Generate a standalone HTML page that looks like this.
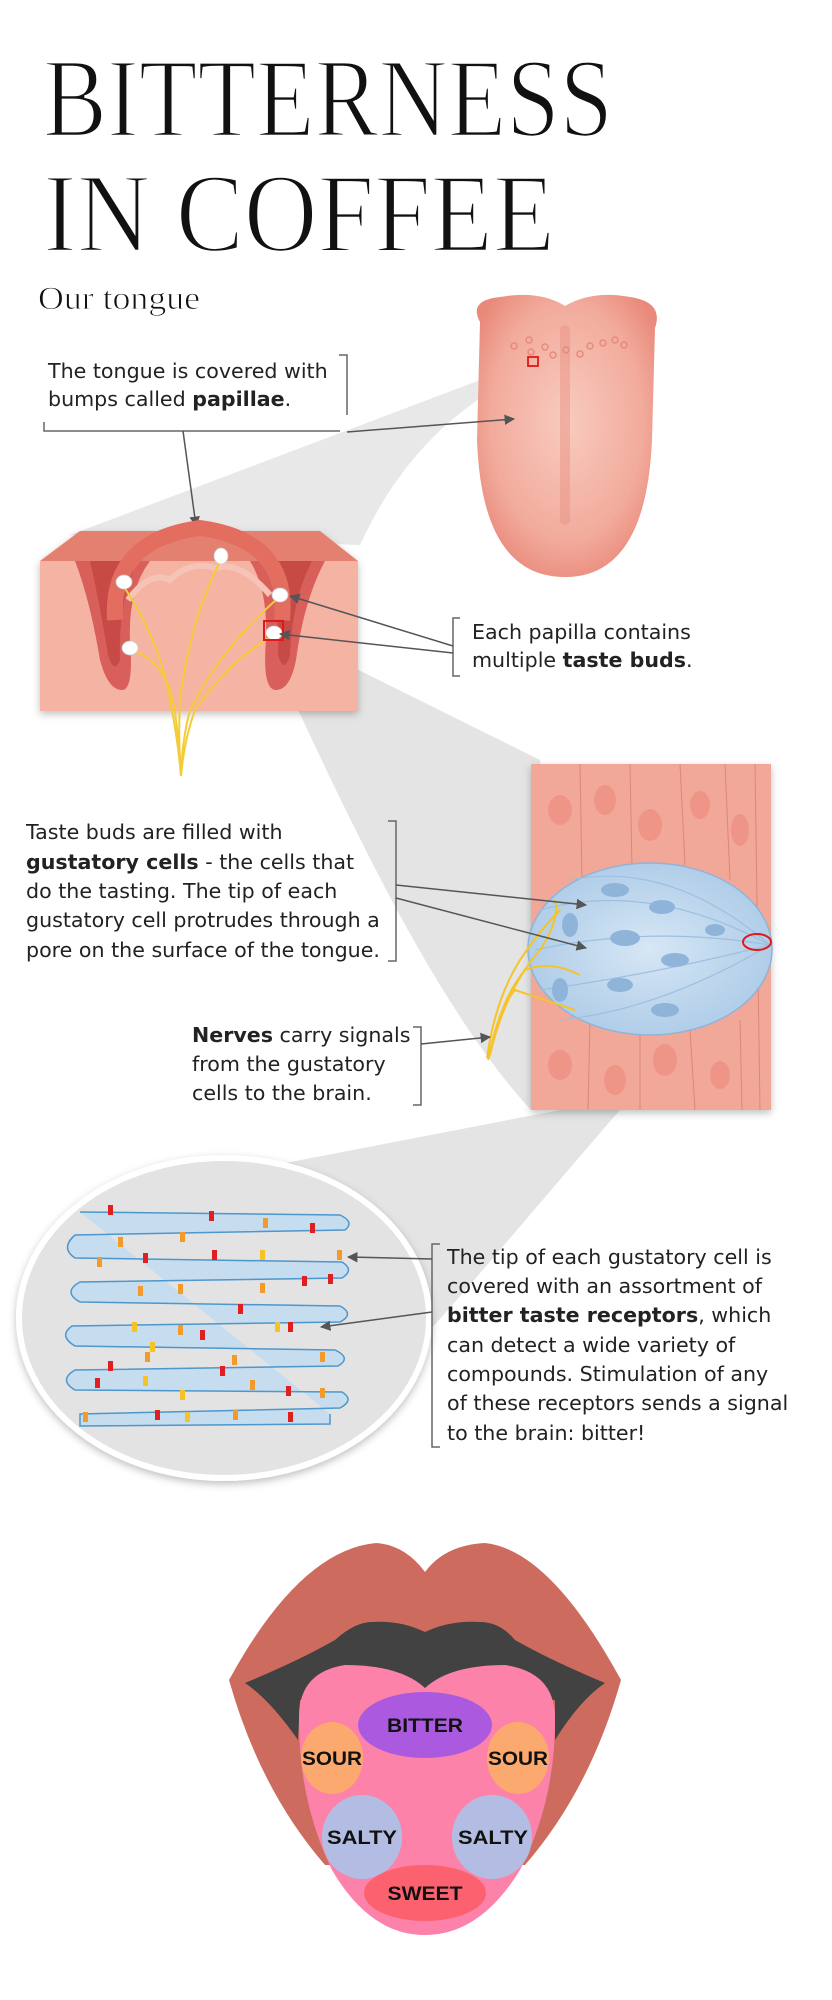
<!DOCTYPE html>
<html><head><meta charset="utf-8"><style>
html,body{margin:0;padding:0;background:#fff;}
svg{display:block;}
.t{font-family:"DejaVu Sans","Liberation Sans",sans-serif;font-size:20.6px;fill:#222;}
.b{font-weight:bold;}
.lab{font-family:"Liberation Sans",sans-serif;font-weight:bold;font-size:19px;fill:#111;}
.ttl{font-family:"Liberation Serif",serif;fill:#111;stroke:#fff;stroke-width:2.6px;}
</style></head><body>
<svg width="832" height="2000" viewBox="0 0 832 2000" xmlns="http://www.w3.org/2000/svg">
<defs>
<marker id="ar" viewBox="0 0 10 10" refX="9" refY="5" markerWidth="7" markerHeight="7" orient="auto"><path d="M0,0 L10,5 L0,10 Z" fill="#555"/></marker>
<radialGradient id="tg" cx="0.5" cy="0.45" r="0.6"><stop offset="0" stop-color="#f8cbbf"/><stop offset="0.7" stop-color="#f2ab9c"/><stop offset="1" stop-color="#e9897a"/></radialGradient>
<radialGradient id="bud" cx="0.5" cy="0.5" r="0.6"><stop offset="0" stop-color="#d6e7f5"/><stop offset="1" stop-color="#a9c8e6"/></radialGradient>
<filter id="sh" x="-10%" y="-10%" width="120%" height="120%"><feDropShadow dx="0" dy="3" stdDeviation="4" flood-color="#000" flood-opacity="0.25"/></filter>
</defs>

<!-- funnels -->
<path d="M533,360 L70,535 L360,545 C390,480 440,410 535,368 Z" fill="#e8e8e8"/>
<path d="M268,625 L540,760 C560,900 560,1000 531,1110 C430,1000 340,800 268,645 Z" fill="#e4e4e4"/>
<path d="M760,935 L560,1110 L275,1165 C360,1170 420,1240 430,1330 C520,1230 640,1080 765,950 Z" fill="#e4e4e4"/>

<!-- title -->
<text class="ttl" x="43" y="136" font-size="112" textLength="570" lengthAdjust="spacingAndGlyphs">BITTERNESS</text>
<text class="ttl" x="43" y="251" font-size="112" textLength="512" lengthAdjust="spacingAndGlyphs">IN COFFEE</text>
<text x="38" y="309" font-family="Liberation Serif, serif" font-size="33" textLength="162" lengthAdjust="spacingAndGlyphs" fill="#111" stroke="#fff" stroke-width="0.8">Our tongue</text>

<!-- top tongue -->
<path d="M480,322 Q468,300 500,297 Q540,290 565,306 Q592,290 630,297 Q664,302 655,328 L652,440 Q646,577 565,577 Q482,577 477,440 Z" fill="url(#tg)"/>
<path d="M565,330 L565,520" stroke="#eb9585" stroke-width="10" opacity="0.5" stroke-linecap="round"/>
<g fill="none" stroke="#e98a7a" stroke-width="1.5">
<circle cx="514" cy="346" r="3"/><circle cx="529" cy="340" r="3"/><circle cx="531" cy="352" r="3"/><circle cx="545" cy="347" r="3"/><circle cx="553" cy="355" r="3"/><circle cx="566" cy="350" r="3"/><circle cx="580" cy="354" r="3"/><circle cx="590" cy="346" r="3"/><circle cx="603" cy="343" r="3"/><circle cx="615" cy="340" r="3"/><circle cx="624" cy="345" r="3"/>
</g>
<rect x="528" y="357" width="10" height="9" fill="none" stroke="#e01818" stroke-width="1.8"/>

<!-- text 1 -->
<text class="t" x="48" y="378">The tongue is covered with</text>
<text class="t" x="48" y="406">bumps called <tspan class="b">papillae</tspan>.</text>
<path d="M339,355 L347,355 L347,415" fill="none" stroke="#666" stroke-width="1.5"/>
<path d="M44,422 L44,431 L340,431" fill="none" stroke="#666" stroke-width="1.5"/>
<line x1="347" y1="432" x2="514" y2="419" stroke="#555" stroke-width="1.5" marker-end="url(#ar)"/>
<line x1="183" y1="431" x2="196" y2="526" stroke="#555" stroke-width="1.5" marker-end="url(#ar)"/>

<!-- papilla block -->
<g filter="url(#sh)">
<rect x="40" y="561" width="318" height="150" fill="#f4b3a3"/>
<path d="M40,561 L80,531 L320,531 L358,561 Z" fill="#e4806f"/>
</g>
<path d="M75,561 Q90,600 100,660 Q108,690 122,690 Q134,690 130,640 Q128,590 150,561 Z" fill="#d9605a"/>
<path d="M250,561 Q268,590 266,640 Q262,690 276,690 Q290,690 296,660 Q304,600 325,561 Z" fill="#d9605a"/>
<path d="M90,561 Q100,605 108,655 Q114,675 120,660 Q118,600 138,561 Z" fill="#c84a47"/>
<path d="M264,561 Q280,600 278,655 Q284,675 290,655 Q292,600 312,561 Z" fill="#c84a47"/>
<path d="M115,620 Q110,540 200,528 Q290,540 282,620" fill="none" stroke="#e36e60" stroke-width="16"/>
<path d="M128,600 Q150,570 170,580 Q190,560 215,568 Q240,560 270,595" fill="none" stroke="#f6c3b7" stroke-width="6"/>
<g fill="none" stroke="#f5cc35" stroke-width="2">
<path d="M122,584 Q160,640 170,700 Q178,740 181,776"/>
<path d="M222,557 Q190,620 180,700 Q178,740 181,776"/>
<path d="M278,598 Q220,650 190,710 Q182,740 181,776"/>
<path d="M272,636 Q230,660 195,710 Q184,740 181,776"/>
<path d="M130,650 Q170,660 176,720 Q180,750 181,776"/>
</g>
<g fill="#fff" stroke="#ccc" stroke-width="0.8">
<ellipse cx="124" cy="582" rx="8" ry="7"/><ellipse cx="221" cy="556" rx="7" ry="8"/><ellipse cx="280" cy="595" rx="8" ry="7"/><ellipse cx="274" cy="633" rx="8" ry="7"/><ellipse cx="130" cy="648" rx="8" ry="7"/>
</g>
<rect x="264" y="621" width="19" height="19" fill="none" stroke="#e01818" stroke-width="2"/>

<!-- text 2 -->
<path d="M460,618 L453,618 L453,676 L460,676" fill="none" stroke="#666" stroke-width="1.5"/>
<text class="t" x="472" y="639">Each papilla contains</text>
<text class="t" x="472" y="667">multiple <tspan class="b">taste buds</tspan>.</text>
<line x1="453" y1="646" x2="290" y2="596" stroke="#555" stroke-width="1.5" marker-end="url(#ar)"/>
<line x1="453" y1="653" x2="280" y2="634" stroke="#555" stroke-width="1.5" marker-end="url(#ar)"/>

<!-- taste bud block -->
<g filter="url(#sh)">
<rect x="531" y="764" width="240" height="346" fill="#f2a899"/>
</g>
<g fill="#ee9486" opacity="0.9">
<ellipse cx="560" cy="810" rx="12" ry="15"/><ellipse cx="605" cy="800" rx="11" ry="15"/><ellipse cx="650" cy="825" rx="12" ry="16"/><ellipse cx="700" cy="805" rx="10" ry="14"/><ellipse cx="740" cy="830" rx="9" ry="16"/>
<ellipse cx="560" cy="1065" rx="12" ry="15"/><ellipse cx="615" cy="1080" rx="11" ry="15"/><ellipse cx="665" cy="1060" rx="12" ry="16"/><ellipse cx="720" cy="1075" rx="10" ry="14"/><ellipse cx="580" cy="1005" rx="9" ry="12"/>
</g>
<g stroke="#d98778" stroke-width="1" fill="none">
<path d="M580,764 L582,880"/><path d="M630,764 L632,870"/><path d="M680,764 L685,865"/><path d="M725,764 L730,880"/><path d="M755,764 L760,1110"/>
<path d="M590,1020 L588,1110"/><path d="M640,1030 L640,1110"/><path d="M690,1030 L695,1110"/><path d="M740,1020 L742,1110"/>
</g>
<ellipse cx="650" cy="949" rx="122" ry="86" fill="url(#bud)" stroke="#8eb4d8" stroke-width="1.5"/>
<g fill="none" stroke="#9dbfe0" stroke-width="1.2">
<path d="M540,910 Q650,880 770,945"/><path d="M535,950 Q650,925 770,945"/><path d="M540,990 Q650,975 770,945"/><path d="M560,1020 Q660,1010 770,945"/><path d="M570,880 Q670,860 770,945"/>
</g>
<g fill="#8fb4da">
<ellipse cx="615" cy="890" rx="14" ry="7"/><ellipse cx="662" cy="907" rx="13" ry="7"/><ellipse cx="625" cy="938" rx="15" ry="8"/><ellipse cx="675" cy="960" rx="14" ry="7"/><ellipse cx="620" cy="985" rx="13" ry="7"/><ellipse cx="665" cy="1010" rx="14" ry="7"/><ellipse cx="570" cy="925" rx="8" ry="12"/><ellipse cx="560" cy="990" rx="8" ry="12"/><ellipse cx="715" cy="930" rx="10" ry="6"/>
</g>
<ellipse cx="757" cy="942" rx="14" ry="8" fill="none" stroke="#e01818" stroke-width="2"/>
<g fill="none" stroke="#f5c32a" stroke-width="2">
<path d="M487,1058 Q495,1000 520,960 Q540,930 560,910"/>
<path d="M489,1058 Q500,1000 525,970 Q550,960 580,975"/>
<path d="M490,1055 Q505,990 540,950 Q560,920 555,900"/>
<path d="M488,1060 Q498,1010 515,990 Q545,1000 575,1010"/>
</g>

<!-- text 3 -->
<text class="t" x="26" y="839">Taste buds are filled with</text>
<text class="t" x="26" y="869"><tspan class="b">gustatory cells</tspan> - the cells that</text>
<text class="t" x="26" y="898">do the tasting. The tip of each</text>
<text class="t" x="26" y="927">gustatory cell protrudes through a</text>
<text class="t" x="26" y="957">pore on the surface of the tongue.</text>
<path d="M388,821 L396,821 L396,961 L388,961" fill="none" stroke="#666" stroke-width="1.5"/>
<line x1="396" y1="885" x2="586" y2="905" stroke="#555" stroke-width="1.5" marker-end="url(#ar)"/>
<line x1="396" y1="898" x2="586" y2="948" stroke="#555" stroke-width="1.5" marker-end="url(#ar)"/>

<text class="t" x="192" y="1042"><tspan class="b">Nerves</tspan> carry signals</text>
<text class="t" x="192" y="1071">from the gustatory</text>
<text class="t" x="192" y="1100">cells to the brain.</text>
<path d="M413,1027 L421,1027 L421,1105 L413,1105" fill="none" stroke="#666" stroke-width="1.5"/>
<line x1="421" y1="1044" x2="490" y2="1037" stroke="#555" stroke-width="1.5" marker-end="url(#ar)"/>

<!-- circle -->
<ellipse cx="224" cy="1318" rx="205" ry="160" fill="#e3e3e3" stroke="#fff" stroke-width="6" filter="url(#sh)"/>
<g fill="#c6dcef" stroke="#4d97cc" stroke-width="1.5">
<path d="M80,1212 L340,1215 Q355,1222 345,1230 L75,1235 Q60,1248 75,1258 L342,1262 Q355,1270 342,1278 L80,1282 Q62,1292 80,1302 L340,1306 Q355,1314 340,1322 L72,1326 Q58,1336 75,1346 L335,1350 Q352,1358 338,1366 L75,1370 Q58,1380 75,1390 L342,1392 Q355,1400 340,1408 L80,1414 L80,1426 L330,1424 L330,1414"/>
</g>
<g>
<g fill="#e02020"><rect x="108" y="1205" width="5" height="10"/><rect x="209" y="1211" width="5" height="10"/><rect x="310" y="1223" width="5" height="10"/><rect x="143" y="1253" width="5" height="10"/><rect x="328" y="1274" width="5" height="10"/><rect x="238" y="1304" width="5" height="10"/><rect x="288" y="1322" width="5" height="10"/><rect x="200" y="1330" width="5" height="10"/><rect x="108" y="1361" width="5" height="10"/><rect x="220" y="1366" width="5" height="10"/><rect x="95" y="1378" width="5" height="10"/><rect x="286" y="1386" width="5" height="10"/><rect x="155" y="1410" width="5" height="10"/><rect x="288" y="1412" width="5" height="10"/><rect x="212" y="1250" width="5" height="10"/><rect x="302" y="1276" width="5" height="10"/></g>
<g fill="#f29a2a"><rect x="118" y="1237" width="5" height="10"/><rect x="180" y="1232" width="5" height="10"/><rect x="263" y="1218" width="5" height="10"/><rect x="97" y="1257" width="5" height="10"/><rect x="178" y="1284" width="5" height="10"/><rect x="260" y="1283" width="5" height="10"/><rect x="138" y="1286" width="5" height="10"/><rect x="178" y="1325" width="5" height="10"/><rect x="145" y="1352" width="5" height="10"/><rect x="232" y="1355" width="5" height="10"/><rect x="320" y="1352" width="5" height="10"/><rect x="250" y="1380" width="5" height="10"/><rect x="320" y="1388" width="5" height="10"/><rect x="83" y="1412" width="5" height="10"/><rect x="233" y="1410" width="5" height="10"/><rect x="337" y="1250" width="5" height="10"/></g>
<g fill="#f5c424"><rect x="132" y="1322" width="5" height="10"/><rect x="275" y="1322" width="5" height="10"/><rect x="260" y="1250" width="5" height="10"/><rect x="143" y="1376" width="5" height="10"/><rect x="180" y="1390" width="5" height="10"/><rect x="185" y="1412" width="5" height="10"/><rect x="150" y="1342" width="5" height="10"/></g>
</g>

<!-- text 4 -->
<path d="M440,1244 L432,1244 L432,1447 L440,1447" fill="none" stroke="#666" stroke-width="1.5"/>
<text class="t" x="447" y="1264">The tip of each gustatory cell is</text>
<text class="t" x="447" y="1293">covered with an assortment of</text>
<text class="t" x="447" y="1322"><tspan class="b">bitter taste receptors</tspan>, which</text>
<text class="t" x="447" y="1352">can detect a wide variety of</text>
<text class="t" x="447" y="1381">compounds. Stimulation of any</text>
<text class="t" x="447" y="1410">of these receptors sends a signal</text>
<text class="t" x="447" y="1440">to the brain: bitter!</text>
<line x1="432" y1="1259" x2="348" y2="1257" stroke="#555" stroke-width="1.5" marker-end="url(#ar)"/>
<line x1="432" y1="1312" x2="321" y2="1327" stroke="#555" stroke-width="1.5" marker-end="url(#ar)"/>

<!-- lips & tongue map -->
<path d="M229,1680 Q300,1550 376,1543 Q405,1545 425,1572 Q445,1545 485,1543 Q550,1550 621,1680 Q590,1790 525,1865 L325,1865 Q260,1790 229,1680 Z" fill="#cd6c5e"/>
<path d="M245,1683 Q300,1660 335,1640 Q355,1622 372,1622 Q400,1620 425,1632 Q450,1620 480,1622 Q500,1622 515,1640 Q550,1660 605,1683 Q580,1700 555,1740 L555,1700 L300,1700 L298,1740 Q270,1700 245,1683 Z" fill="#424242"/>
<path d="M299,1715 Q300,1672 345,1665 Q400,1665 425,1688 Q450,1665 505,1665 Q553,1672 555,1715 Q556,1800 520,1870 Q480,1935 425,1935 Q370,1935 332,1870 Q298,1800 299,1715 Z" fill="#fc82aa"/>
<ellipse cx="425" cy="1725" rx="67" ry="33" fill="#ab5ae0"/>
<ellipse cx="332" cy="1758" rx="31" ry="36" fill="#fca96f"/>
<ellipse cx="518" cy="1758" rx="31" ry="36" fill="#fca96f"/>
<ellipse cx="362" cy="1837" rx="40" ry="42" fill="#b3bde3"/>
<ellipse cx="492" cy="1837" rx="40" ry="42" fill="#b3bde3"/>
<ellipse cx="425" cy="1893" rx="61" ry="28" fill="#fc6170"/>
<text class="lab" x="425" y="1732" text-anchor="middle" textLength="76" lengthAdjust="spacingAndGlyphs">BITTER</text>
<text class="lab" x="332" y="1765" text-anchor="middle" textLength="60" lengthAdjust="spacingAndGlyphs">SOUR</text>
<text class="lab" x="518" y="1765" text-anchor="middle" textLength="60" lengthAdjust="spacingAndGlyphs">SOUR</text>
<text class="lab" x="362" y="1844" text-anchor="middle" textLength="70" lengthAdjust="spacingAndGlyphs">SALTY</text>
<text class="lab" x="493" y="1844" text-anchor="middle" textLength="70" lengthAdjust="spacingAndGlyphs">SALTY</text>
<text class="lab" x="425" y="1900" text-anchor="middle" textLength="75" lengthAdjust="spacingAndGlyphs">SWEET</text>
</svg>
</body></html>
